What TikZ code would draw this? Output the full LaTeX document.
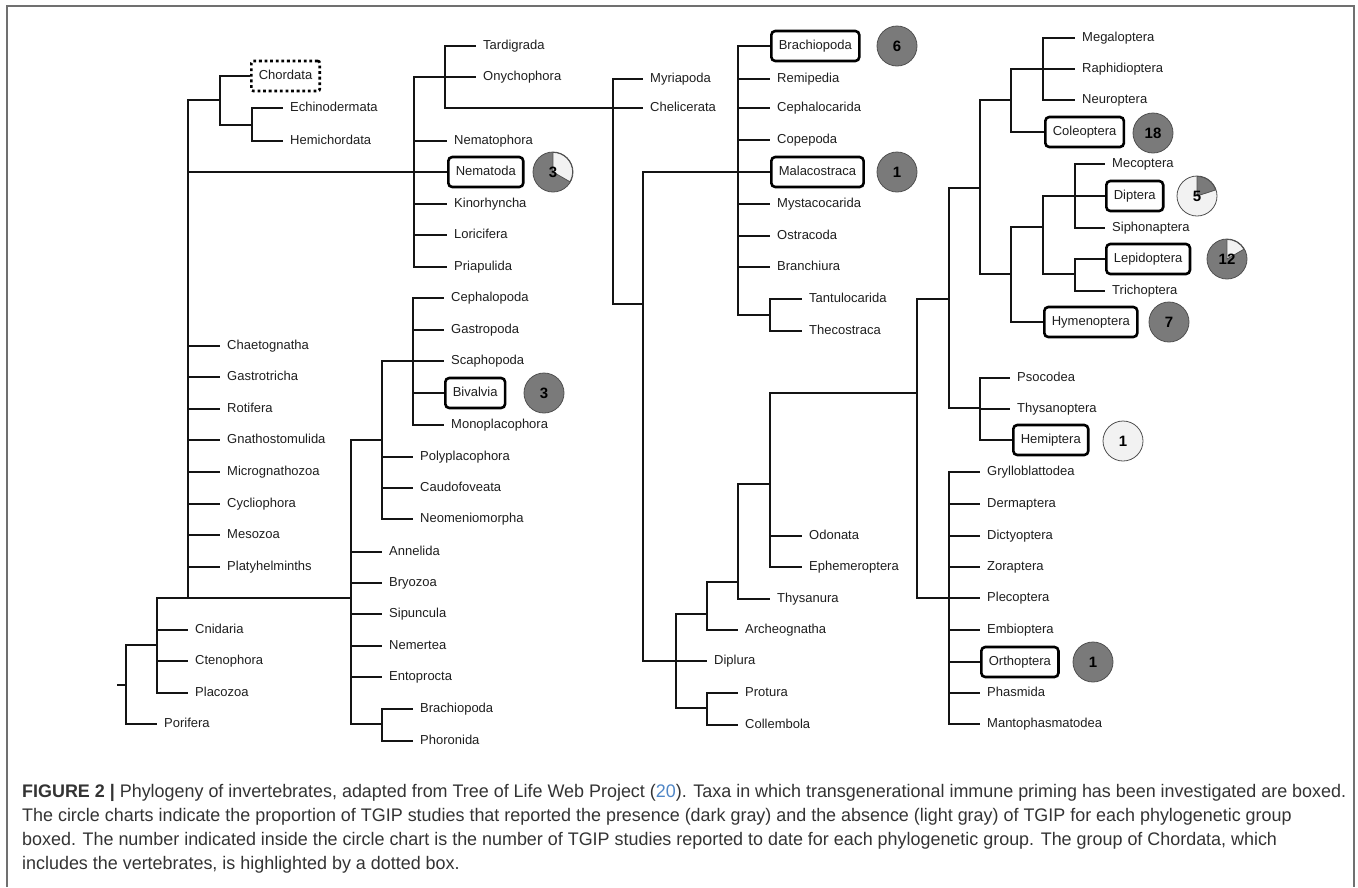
\documentclass[tikz,border=0pt]{standalone}
\usepackage{fontspec}
\setmainfont{Liberation Sans}
\newfontfamily\capfont[FakeStretch=0.985]{Liberation Sans}
\usepackage{tikz}
\usetikzlibrary{shapes}
\definecolor{darkg}{HTML}{7A7A7A}
\definecolor{lightg}{HTML}{F2F2F2}
\definecolor{rimg}{HTML}{505050}
\definecolor{inkc}{HTML}{1E1E1E}
\definecolor{linkc}{HTML}{4F86C6}
\definecolor{framec}{HTML}{707070}
\tikzstyle{taxon}=[anchor=west, inner xsep=7pt, inner ysep=0pt, text height=9.5pt,
                   text depth=2.7pt, text=inkc, font=\fontsize{13}{15}\selectfont]
\tikzstyle{boxed}=[taxon, draw=black, line width=2.6pt, rounded corners=4pt,
                   minimum height=30pt, inner xsep=7.5pt]
\tikzstyle{dotbox}=[boxed, dash pattern=on 2.8pt off 2.8pt, rounded corners=2pt]
\tikzstyle{line}=[draw=black!92, line width=1.8pt]
\tikzstyle{count}=[circle, draw=rimg, line width=0.8pt, minimum size=40pt, inner sep=0pt,
                   text=black, font=\fontsize{15}{17}\selectfont\bfseries]
\tikzstyle{caption}=[anchor=base west, inner sep=0pt, text=black!80,
                     font=\capfont\fontsize{18.2}{22}\selectfont]
\tikzset{pie/.style n args={3}{count, fill=#1, path picture={
  \filldraw[fill=#2, draw=rimg, line width=0.8pt] (path picture bounding box.center)
    -- ++(90:19.6pt) arc[start angle=90, end angle=#3, radius=19.6pt] -- cycle;}}}

\begin{document}
\begin{tikzpicture}[x=1pt, y=-1pt]
    \useasboundingbox (0,0) rectangle (1358,887);
    \draw[framec, line width=1.5pt] (7,887) -- (7,6) -- (1354,6) -- (1354,887);
    % branching points
    \coordinate (stem) at (117,685);
    \coordinate (R)    at (126,685);
    \coordinate (E)    at (157,645);
    \coordinate (D)    at (188,598);
    \coordinate (Deut) at (220,100);
    \coordinate (Amb)  at (252,125);
    \coordinate (N)    at (414,172);
    \coordinate (T)    at (445,77);
    \coordinate (A)    at (613,108);
    \coordinate (P)    at (643,304);
    \coordinate (C)    at (738,172);
    \coordinate (Tc)   at (770,315);
    \coordinate (H)    at (676,661);
    \coordinate (I1)   at (707,614);
    \coordinate (Ento) at (707,708);
    \coordinate (I2)   at (738,582);
    \coordinate (I3)   at (770,484);
    \coordinate (Neo)  at (917,393);
    \coordinate (Ho)   at (949,299);
    \coordinate (Poly) at (949,598);
    \coordinate (Hol)  at (980,188);
    \coordinate (Par)  at (980,408);
    \coordinate (Neu)  at (1011,100);
    \coordinate (Meg)  at (1043,69);
    \coordinate (Mec)  at (1011,274);
    \coordinate (Ant)  at (1043,227);
    \coordinate (Dip)  at (1075,196);
    \coordinate (Lep)  at (1075,274);
    \coordinate (L)    at (351,598);
    \coordinate (Mol)  at (382,440);
    \coordinate (Con)  at (413,361);
    \coordinate (Lopho) at (382,724);
    % taxa
    \node [dotbox] (chord)  at (250,76)  {Chordata};
    \node [taxon]  (echi)   at (283,108) {Echinodermata};
    \node [taxon]  (hemic)  at (283,141) {Hemichordata};
    \node [taxon]  (chaet)  at (220,346) {Chaetognatha};
    \node [taxon]  (gastt)  at (220,377) {Gastrotricha};
    \node [taxon]  (roti)   at (220,409) {Rotifera};
    \node [taxon]  (gnath)  at (220,440) {Gnathostomulida};
    \node [taxon]  (micro)  at (220,472) {Micrognathozoa};
    \node [taxon]  (cycl)   at (220,504) {Cycliophora};
    \node [taxon]  (meso)   at (220,535) {Mesozoa};
    \node [taxon]  (platy)  at (220,567) {Platyhelminths};
    \node [taxon]  (cnid)   at (188,630) {Cnidaria};
    \node [taxon]  (cteno)  at (188,661) {Ctenophora};
    \node [taxon]  (placo)  at (188,693) {Placozoa};
    \node [taxon]  (pori)   at (157,724) {Porifera};
    \node [taxon]  (tard)   at (476,46)  {Tardigrada};
    \node [taxon]  (onych)  at (476,77)  {Onychophora};
    \node [taxon]  (nemph)  at (447,141) {Nematophora};
    \node [boxed]  (nema)   at (447,172) {Nematoda};
    \node [taxon]  (kino)   at (447,204) {Kinorhyncha};
    \node [taxon]  (lori)   at (447,235) {Loricifera};
    \node [taxon]  (pria)   at (447,267) {Priapulida};
    \node [taxon]  (cephl)  at (444,298) {Cephalopoda};
    \node [taxon]  (gastr)  at (444,330) {Gastropoda};
    \node [taxon]  (scaph)  at (444,361) {Scaphopoda};
    \node [boxed]  (biva)   at (444,393) {Bivalvia};
    \node [taxon]  (monop)  at (444,425) {Monoplacophora};
    \node [taxon]  (polyp)  at (413,457) {Polyplacophora};
    \node [taxon]  (caudo)  at (413,488) {Caudofoveata};
    \node [taxon]  (neome)  at (413,519) {Neomeniomorpha};
    \node [taxon]  (anne)   at (382,552) {Annelida};
    \node [taxon]  (bryo)   at (382,583) {Bryozoa};
    \node [taxon]  (sipu)   at (382,614) {Sipuncula};
    \node [taxon]  (nemer)  at (382,646) {Nemertea};
    \node [taxon]  (entop)  at (382,677) {Entoprocta};
    \node [taxon]  (brach)  at (413,709) {Brachiopoda};
    \node [taxon]  (phoro)  at (413,741) {Phoronida};
    \node [taxon]  (myria)  at (643,79)  {Myriapoda};
    \node [taxon]  (chel)   at (643,108) {Chelicerata};
    \node [boxed]  (branp)  at (770,46)  {Brachiopoda};
    \node [taxon]  (remi)   at (770,79)  {Remipedia};
    \node [taxon]  (cephc)  at (770,108) {Cephalocarida};
    \node [taxon]  (cope)   at (770,140) {Copepoda};
    \node [boxed]  (mala)   at (770,172) {Malacostraca};
    \node [taxon]  (myst)   at (770,204) {Mystacocarida};
    \node [taxon]  (ostr)   at (770,236) {Ostracoda};
    \node [taxon]  (branc)  at (770,267) {Branchiura};
    \node [taxon]  (tant)   at (802,299) {Tantulocarida};
    \node [taxon]  (theco)  at (802,331) {Thecostraca};
    \node [taxon]  (odon)   at (802,536) {Odonata};
    \node [taxon]  (ephe)   at (802,567) {Ephemeroptera};
    \node [taxon]  (thysa)  at (770,599) {Thysanura};
    \node [taxon]  (arche)  at (738,630) {Archeognatha};
    \node [taxon]  (dipl)   at (707,661) {Diplura};
    \node [taxon]  (prot)   at (738,693) {Protura};
    \node [taxon]  (coll)   at (738,725) {Collembola};
    \node [taxon]  (megal)  at (1075,38) {Megaloptera};
    \node [taxon]  (raph)   at (1075,69) {Raphidioptera};
    \node [taxon]  (neur)   at (1075,100) {Neuroptera};
    \node [boxed]  (coleo)  at (1044,132) {Coleoptera};
    \node [taxon]  (meco)   at (1105,164) {Mecoptera};
    \node [boxed]  (dipt)   at (1105,196) {Diptera};
    \node [taxon]  (siph)   at (1105,228) {Siphonaptera};
    \node [boxed]  (lepi)   at (1105,259) {Lepidoptera};
    \node [taxon]  (trich)  at (1105,291) {Trichoptera};
    \node [boxed]  (hyme)   at (1043,322) {Hymenoptera};
    \node [taxon]  (psoc)   at (1010,378) {Psocodea};
    \node [taxon]  (thysp)  at (1010,409) {Thysanoptera};
    \node [boxed]  (hemip)  at (1012,440) {Hemiptera};
    \node [taxon]  (gryl)   at (980,472) {Grylloblattodea};
    \node [taxon]  (derm)   at (980,504) {Dermaptera};
    \node [taxon]  (dict)   at (980,536) {Dictyoptera};
    \node [taxon]  (zora)   at (980,567) {Zoraptera};
    \node [taxon]  (pleco)  at (980,598) {Plecoptera};
    \node [taxon]  (embi)   at (980,630) {Embioptera};
    \node [boxed]  (ortho)  at (980,662) {Orthoptera};
    \node [taxon]  (phas)   at (980,693) {Phasmida};
    \node [taxon]  (manto)  at (980,724) {Mantophasmatodea};
    % study counts
    \node [pie={darkg}{lightg}{-30}] (cNem) at (553,172) {3};
    \node [count, fill=darkg]  (cBiv)  at (544,393) {3};
    \node [count, fill=darkg]  (cBra)  at (897,46)  {6};
    \node [count, fill=darkg]  (cMal)  at (897,172) {1};
    \node [count, fill=darkg]  (cCol)  at (1153,133) {18};
    \node [pie={lightg}{darkg}{18}] (cDip) at (1197,196) {5};
    \node [pie={darkg}{lightg}{30}] (cLep) at (1227,259) {12};
    \node [count, fill=darkg]  (cHym)  at (1169,322) {7};
    \node [count, fill=lightg] (cHem)  at (1123,441) {1};
    \node [count, fill=darkg]  (cOrt)  at (1093,662) {1};
    % tree
    \path [line] (stem) -- (R);
    \path [line] (R) |- (E);
    \path [line] (R) |- (pori.west);
    \path [line] (E) |- (L);
    \path [line] (E) |- (cnid.west);
    \path [line] (E) |- (cteno.west);
    \path [line] (E) |- (placo.west);
    \path [line] (D) |- (Deut);
    \path [line] (Deut) |- (chord.west);
    \path [line] (Deut) |- (Amb);
    \path [line] (Amb) |- (echi.west);
    \path [line] (Amb) |- (hemic.west);
    \path [line] (D) |- (N);
    \path [line] (D) |- (chaet.west);
    \path [line] (D) |- (gastt.west);
    \path [line] (D) |- (roti.west);
    \path [line] (D) |- (gnath.west);
    \path [line] (D) |- (micro.west);
    \path [line] (D) |- (cycl.west);
    \path [line] (D) |- (meso.west);
    \path [line] (D) |- (platy.west);
    \path [line] (N) |- (T);
    \path [line] (N) |- (nemph.west);
    \path [line] (N) -- (nema.west);
    \path [line] (N) |- (kino.west);
    \path [line] (N) |- (lori.west);
    \path [line] (N) |- (pria.west);
    \path [line] (T) |- (tard.west);
    \path [line] (T) -- (onych.west);
    \path [line] (T) |- (A);
    \path [line] (A) |- (myria.west);
    \path [line] (A) -- (chel.west);
    \path [line] (A) |- (P);
    \path [line] (P) |- (C);
    \path [line] (P) |- (H);
    \path [line] (C) |- (branp.west);
    \path [line] (C) |- (remi.west);
    \path [line] (C) |- (cephc.west);
    \path [line] (C) |- (cope.west);
    \path [line] (C) -- (mala.west);
    \path [line] (C) |- (myst.west);
    \path [line] (C) |- (ostr.west);
    \path [line] (C) |- (branc.west);
    \path [line] (C) |- (Tc);
    \path [line] (Tc) |- (tant.west);
    \path [line] (Tc) |- (theco.west);
    \path [line] (H) |- (I1);
    \path [line] (H) -- (dipl.west);
    \path [line] (H) |- (Ento);
    \path [line] (Ento) |- (prot.west);
    \path [line] (Ento) |- (coll.west);
    \path [line] (I1) |- (arche.west);
    \path [line] (I1) |- (I2);
    \path [line] (I2) |- (thysa.west);
    \path [line] (I2) |- (I3);
    \path [line] (I3) |- (odon.west);
    \path [line] (I3) |- (ephe.west);
    \path [line] (I3) |- (Neo);
    \path [line] (Neo) |- (Ho);
    \path [line] (Neo) |- (Poly);
    \path [line] (Poly) |- (gryl.west);
    \path [line] (Poly) |- (derm.west);
    \path [line] (Poly) |- (dict.west);
    \path [line] (Poly) |- (zora.west);
    \path [line] (Poly) -- (pleco.west);
    \path [line] (Poly) |- (embi.west);
    \path [line] (Poly) |- (ortho.west);
    \path [line] (Poly) |- (phas.west);
    \path [line] (Poly) |- (manto.west);
    \path [line] (Ho) |- (Hol);
    \path [line] (Ho) |- (Par);
    \path [line] (Par) |- (psoc.west);
    \path [line] (Par) |- (thysp.west);
    \path [line] (Par) |- (hemip.west);
    \path [line] (Hol) |- (Neu);
    \path [line] (Hol) |- (Mec);
    \path [line] (Neu) |- (Meg);
    \path [line] (Neu) |- (coleo.west);
    \path [line] (Meg) |- (megal.west);
    \path [line] (Meg) -- (raph.west);
    \path [line] (Meg) |- (neur.west);
    \path [line] (Mec) |- (Ant);
    \path [line] (Mec) |- (hyme.west);
    \path [line] (Ant) |- (Dip);
    \path [line] (Ant) |- (Lep);
    \path [line] (Dip) |- (meco.west);
    \path [line] (Dip) -- (dipt.west);
    \path [line] (Dip) |- (siph.west);
    \path [line] (Lep) |- (lepi.west);
    \path [line] (Lep) |- (trich.west);
    \path [line] (L) |- (Mol);
    \path [line] (L) |- (anne.west);
    \path [line] (L) |- (bryo.west);
    \path [line] (L) |- (sipu.west);
    \path [line] (L) |- (nemer.west);
    \path [line] (L) |- (entop.west);
    \path [line] (L) |- (Lopho);
    \path [line] (Lopho) |- (brach.west);
    \path [line] (Lopho) |- (phoro.west);
    \path [line] (Mol) |- (Con);
    \path [line] (Mol) |- (polyp.west);
    \path [line] (Mol) |- (caudo.west);
    \path [line] (Mol) |- (neome.west);
    \path [line] (Con) |- (cephl.west);
    \path [line] (Con) |- (gastr.west);
    \path [line] (Con) -- (scaph.west);
    \path [line] (Con) |- (biva.west);
    \path [line] (Con) |- (monop.west);
    % caption
    \node [caption] (cap1) at (22,797) {\textbf{FIGURE 2 \textbar} Phylogeny of invertebrates, adapted from Tree of Life Web Project ({\color{linkc}20}). Taxa in which transgenerational immune priming has been investigated are boxed.};
    \node [caption] (cap2) at (22,821) {The circle charts indicate the proportion of TGIP studies that reported the presence (dark gray) and the absence (light gray) of TGIP for each phylogenetic group};
    \node [caption] (cap3) at (22,845) {boxed. The number indicated inside the circle chart is the number of TGIP studies reported to date for each phylogenetic group. The group of Chordata, which};
    \node [caption] (cap4) at (22,869.5) {includes the vertebrates, is highlighted by a dotted box.};
\end{tikzpicture}
\end{document}
